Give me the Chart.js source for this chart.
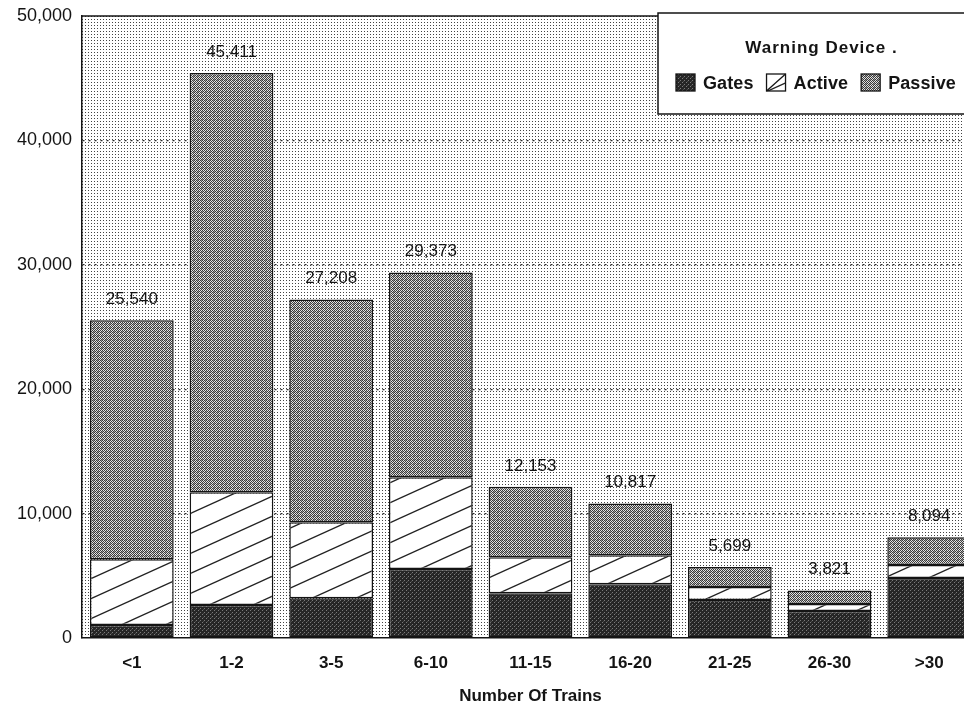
<!DOCTYPE html>
<html>
<head>
<meta charset="utf-8">
<script src="https://cdn.jsdelivr.net/npm/chart.js@4.4.1/dist/chart.umd.min.js"></script>
<style>
  html, body { margin: 0; padding: 0; background: #fff; overflow: hidden; }
  #wrap { width: 984px; height: 708px; }
</style>
</head>
<body>
<div id="wrap"><canvas id="canvas" width="984" height="708"></canvas></div>
<script>
// categories (number of trains per day)
const categories = ["<1", "1-2", "3-5", "6-10", "11-15", "16-20", "21-25", "26-30", ">30"];

// crossings by warning device
const gates   = [1040, 2650, 3200, 5540, 3600, 4330, 3050, 2170, 4820];
const active  = [5300, 9070, 6110, 7380, 2900, 2330, 1040,  560, 1040];
const passive = [19200, 33691, 17898, 16453, 5653, 4157, 1609, 1091, 2234];

const yTicks = [0, 10000, 20000, 30000, 40000, 50000];

const legendTitle = "Warning Device .";
const xTitle = "Number Of Trains";

const FONT = "'Liberation Sans', Arial, Helvetica, sans-serif";
const INK = "#141414";

// --- fill patterns (scanned halftone look) ---
function makeTile(w, h, draw) {
    const c = document.createElement("canvas");
    c.width = w;
    c.height = h;
    draw(c.getContext("2d"));
    return document.getElementById("canvas").getContext("2d").createPattern(c, "repeat");
}

// light dotted background of the plot
const bgPattern = makeTile(3, 3, (g) => {
    g.fillStyle = "#fff";
    g.fillRect(0, 0, 3, 3);
    g.fillStyle = "#444";
    g.fillRect(1, 1, 1, 1);
});

// dark stipple for gates
const gatesPattern = makeTile(4, 4, (g) => {
    g.fillStyle = "#262626";
    g.fillRect(0, 0, 4, 4);
    g.fillStyle = "#7a7a7a";
    g.fillRect(0, 0, 1, 1);
    g.fillRect(2, 2, 1, 1);
    g.fillStyle = "#4a4a4a";
    g.fillRect(3, 1, 1, 1);
});

// diagonal hatch for active
const activePattern = makeTile(44, 20, (g) => {
    g.fillStyle = "#fff";
    g.fillRect(0, 0, 44, 20);
    g.strokeStyle = "#222";
    g.lineWidth = 1.3;
    for (let k = -1; k <= 1; k++) {
        g.beginPath();
        g.moveTo(-44, 40 + k * 20);
        g.lineTo(88, -20 + k * 20);
        g.stroke();
    }
});

// checker for passive
const passivePattern = makeTile(4, 4, (g) => {
    g.fillStyle = "#e2e2e2";
    g.fillRect(0, 0, 4, 4);
    g.fillStyle = "#3a3a3a";
    g.fillRect(0, 0, 1, 1);
    g.fillRect(2, 0, 1, 1);
    g.fillRect(1, 1, 1, 1);
    g.fillRect(3, 1, 1, 1);
    g.fillRect(0, 2, 1, 1);
    g.fillRect(2, 2, 1, 1);
    g.fillRect(1, 3, 1, 1);
    g.fillRect(3, 3, 1, 1);
    g.fillStyle = "#9a9a9a";
    g.fillRect(1, 0, 1, 1);
    g.fillRect(2, 3, 1, 1);
});

// plot background + top frame line
const backgroundPlugin = {
    id: "plotBackground",
    beforeDraw(chart) {
        const { ctx, chartArea } = chart;
        ctx.save();
        ctx.fillStyle = bgPattern;
        ctx.fillRect(chartArea.left, chartArea.top, chartArea.right - chartArea.left, chartArea.bottom - chartArea.top);
        ctx.restore();
    },
    afterDraw(chart) {
        const { ctx, chartArea } = chart;
        ctx.save();
        ctx.strokeStyle = INK;
        ctx.lineWidth = 1.5;
        ctx.beginPath();
        ctx.moveTo(chartArea.left, chartArea.top);
        ctx.lineTo(chartArea.right, chartArea.top);
        ctx.stroke();
        ctx.restore();
    }
};

// totals written above every bar
const totalsPlugin = {
    id: "totals",
    afterDatasetsDraw(chart) {
        const { ctx } = chart;
        const top = chart.getDatasetMeta(chart.data.datasets.length - 1);
        ctx.save();
        ctx.font = "17px " + FONT;
        ctx.fillStyle = INK;
        ctx.textAlign = "center";
        ctx.textBaseline = "middle";
        categories.forEach((c, i) => {
            const total = chart.data.datasets.reduce((s, ds) => s + ds.data[i], 0);
            const bar = top.data[i];
            ctx.fillText(total.toLocaleString("en-US"), bar.x, bar.y - 21);
        });
        ctx.restore();
    }
};

// boxed legend in the top right corner
const legendPlugin = {
    id: "boxLegend",
    afterDraw(chart) {
        const { ctx, chartArea } = chart;
        const left = chartArea.right - 321;
        const right = chartArea.right + 6;
        const top = chartArea.top - 3;
        const bottom = chartArea.top + 98;
        ctx.save();
        ctx.fillStyle = "#fff";
        ctx.fillRect(left, top, right - left, bottom - top);
        ctx.strokeStyle = INK;
        ctx.lineWidth = 1.5;
        ctx.strokeRect(left, top, right - left, bottom - top);

        ctx.fillStyle = INK;
        ctx.textBaseline = "middle";
        ctx.textAlign = "center";
        ctx.font = "bold 17px " + FONT;
        ctx.letterSpacing = "1px";
        ctx.fillText(legendTitle, (left + right) / 2, top + 35);

        ctx.textAlign = "left";
        ctx.font = "bold 18px " + FONT;
        ctx.letterSpacing = "0.1px";
        let x = left + 18;
        const y = top + 70;
        chart.data.datasets.forEach((ds) => {
            ctx.fillStyle = ds.backgroundColor;
            ctx.fillRect(x, y - 9, 19, 17);
            ctx.strokeStyle = INK;
            ctx.lineWidth = 1.3;
            ctx.strokeRect(x, y - 9, 19, 17);
            if (ds.label === "Active") {
                ctx.beginPath();
                ctx.moveTo(x, y + 8);
                ctx.lineTo(x + 19, y - 9);
                ctx.stroke();
            }
            ctx.fillStyle = INK;
            ctx.fillText(ds.label, x + 27, y + 1);
            x += 27 + ctx.measureText(ds.label).width + 13;
        });
        ctx.restore();
    }
};

function makeDataset(label, data, fill) {
    return {
        label: label,
        data: data,
        backgroundColor: fill,
        borderColor: INK,
        borderWidth: 1.5,
        borderSkipped: false,
        barPercentage: 0.84,
        categoryPercentage: 1.0
    };
}

const chart = new Chart(document.getElementById("canvas").getContext("2d"), {
    type: "bar",
    data: {
        labels: categories,
        datasets: [
            makeDataset("Gates", gates, gatesPattern),
            makeDataset("Active", active, activePattern),
            makeDataset("Passive", passive, passivePattern)
        ]
    },
    options: {
        responsive: false,
        animation: false,
        layout: { padding: { top: 16, right: 5, left: 0, bottom: 0 } },
        plugins: {
            legend: { display: false },
            tooltip: { enabled: false }
        },
        scales: {
            x: {
                stacked: true,
                grid: { display: false, drawTicks: false },
                border: { display: true, color: INK, width: 1.5 },
                ticks: {
                    color: INK,
                    padding: 15,
                    font: { family: FONT, size: 17, weight: "bold" }
                },
                title: {
                    display: true,
                    text: xTitle,
                    color: INK,
                    padding: { top: 0, bottom: 1 },
                    font: { family: FONT, size: 17, weight: "bold" }
                },
                afterFit(scale) { scale.height = 70; }
            },
            y: {
                stacked: true,
                min: 0,
                max: 50000,
                afterBuildTicks(scale) { scale.ticks = yTicks.map(v => ({ value: v })); },
                grid: {
                    drawTicks: false,
                    color: (c) => (c.tick && (c.tick.value === 0 || c.tick.value === 50000)) ? "rgba(0,0,0,0)" : "#2a2a2a",
                    lineWidth: 1.2
                },
                border: { display: true, color: INK, width: 1.5, dash: [2, 4] },
                ticks: {
                    color: INK,
                    padding: 10,
                    font: { family: FONT, size: 18 },
                    callback: (v) => v.toLocaleString("en-US")
                },
                afterFit(scale) {
                    scale.width = 82;
                    scale.paddingTop = 0;
                    scale.paddingBottom = 0;
                }
            }
        }
    },
    plugins: [backgroundPlugin, totalsPlugin, legendPlugin]
});
</script>
</body>
</html>
